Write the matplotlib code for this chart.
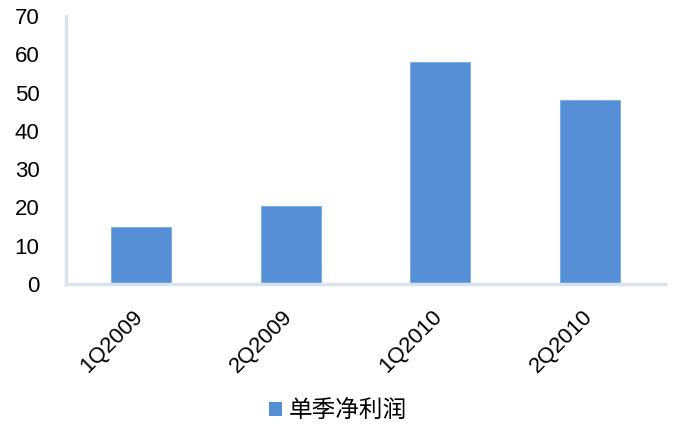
import matplotlib
matplotlib.use("Agg")
import matplotlib.pyplot as plt
import matplotlib.transforms as mtransforms
from matplotlib.patches import Patch

# quarterly net profit
quarters = ["1Q2009", "2Q2009", "1Q2010", "2Q2010"]
profit = [15, 20.5, 58, 48]

plt.rcParams['font.family'] = ['Liberation Sans', 'Noto Sans CJK SC', 'DejaVu Sans']

fig = plt.figure(figsize=(6.76, 4.30), dpi=100)
ax = fig.add_axes([0.0976, 0.3395, 0.886, 0.623])

bar_color = "#558fd6"
ax.bar(range(len(quarters)), profit, width=0.4, color=bar_color,
       edgecolor="#7aa8e0", linewidth=0.6)

ax.set_xlim(-0.5, len(quarters) - 0.5)
ax.set_ylim(0, 70)
ax.set_yticks(range(0, 71, 10))
ax.tick_params(axis="y", length=0, labelsize=16, pad=19)
ax.tick_params(axis="x", length=0, pad=14)

ax.set_xticks(range(len(quarters)))
ax.set_xticklabels(quarters, rotation=45, ha="right", rotation_mode="anchor",
                   fontsize=16)
# nudge the slanted labels a little left
shift = mtransforms.ScaledTranslation(-6 / 72, -2 / 72, fig.dpi_scale_trans)
for lbl in ax.get_xticklabels():
    lbl.set_transform(lbl.get_transform() + shift)

for side in ("top", "right"):
    ax.spines[side].set_visible(False)
for side in ("left", "bottom"):
    ax.spines[side].set_color("#d9e3f0")
    ax.spines[side].set_linewidth(2.5)

handles = [Patch(facecolor=bar_color, label="单季净利润")]
fig.legend(handles=handles, loc="center", bbox_to_anchor=(0.5, 0.045),
           frameon=False, handlelength=0.55, handleheight=0.55,
           handletextpad=0.3, prop={"family": ["Noto Sans CJK SC"], "size": 17})

fig.savefig("out.png", dpi=100)
